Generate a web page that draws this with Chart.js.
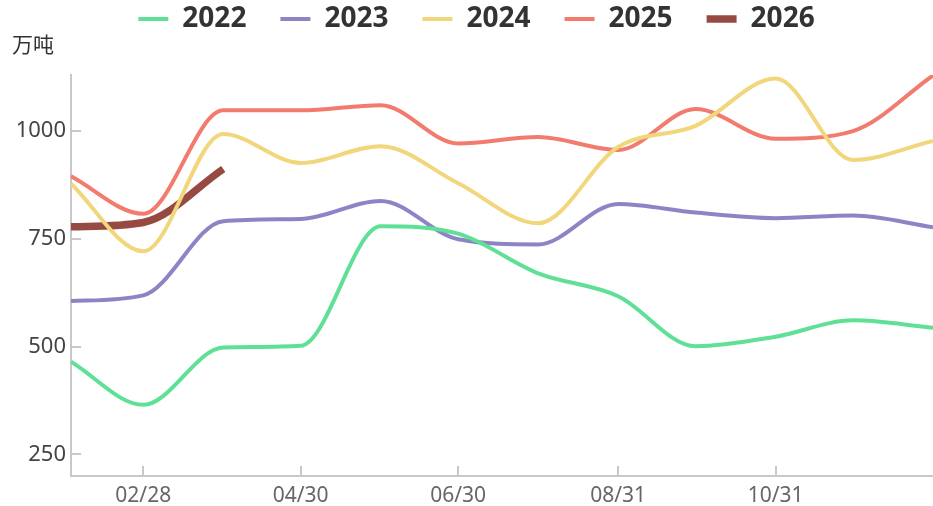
<!DOCTYPE html>
<html>
<head>
<meta charset="utf-8">
<script src="https://cdn.jsdelivr.net/npm/chart.js@4/dist/chart.umd.min.js"></script>
<style>
  html, body { margin: 0; padding: 0; background: #fff; }
  #wrap { width: 933px; height: 506px; position: relative; }
</style>
</head>
<body>
<div id="wrap"><canvas id="chart"></canvas></div>
<script>
const UNIT = '万吨';
const categories = ['01/31', '02/28', '03/31', '04/30', '05/31', '06/30', '07/31', '08/31', '09/30', '10/31', '11/30', '12/31'];
const tickLabels = ['02/28', '04/30', '06/30', '08/31', '10/31'];
const yTicks = [250, 500, 750, 1000];

const s2022 = [465, 365, 498, 502, 779, 762, 670, 617, 501, 523, 561, 544];
const s2023 = [606, 619, 791, 796, 838, 749, 737, 831, 811, 798, 804, 777];
const s2024 = [878, 721, 993, 926, 965, 879, 786, 963, 1012, 1122, 933, 977];
const s2025 = [895, 808, 1048, 1048, 1060, 971, 986, 956, 1051, 982, 1000, 1129];
const s2026 = [778, 788, 912];

const COLORS = {
  2022: '#5fe096',
  2023: '#8c85c5',
  2024: '#f1d67b',
  2025: '#f27b6d',
  2026: '#974a41',
};

// 'MM/DD' -> day of year (non-leap), so the x axis is spaced by date
function dayOfYear(md) {
  const [m, d] = md.split('/').map(Number);
  return (Date.UTC(2023, m - 1, d) - Date.UTC(2023, 0, 0)) / 86400000;
}

function pointsOf(values) {
  return values.map((v, i) => ({ x: dayOfYear(categories[i]), y: v }));
}

function lineDataset(label, values, width) {
  return {
    label,
    data: pointsOf(values),
    borderColor: COLORS[label],
    backgroundColor: COLORS[label],
    borderWidth: width,
    pointRadius: 0,
    pointHoverRadius: 0,
    cubicInterpolationMode: 'monotone',
    fill: false,
    pointStyle: 'line',
  };
}

// legend: extra room below it, and nudged right a little
const legendPlacement = {
  id: 'legendPlacement',
  beforeInit(chart) {
    const legend = chart.legend;
    const fit = legend.fit;
    legend.fit = function () {
      fit.call(this);
      this.height += 32;
    };
    const draw = legend.draw;
    legend.draw = function (...args) {
      this.ctx.save();
      this.ctx.translate(10, 0);
      draw.apply(this, args);
      this.ctx.restore();
    };
  },
};

const unitLabel = {
  id: 'unitLabel',
  afterDraw(chart) {
    const { ctx } = chart;
    ctx.save();
    ctx.font = '21px "Noto Sans CJK SC"';
    ctx.fillStyle = '#333';
    ctx.textAlign = 'left';
    ctx.textBaseline = 'middle';
    ctx.fillText(UNIT, 12, 44);
    ctx.restore();
  },
};

const tickDays = tickLabels.map(dayOfYear);
const labelByDay = {};
tickLabels.forEach((t) => { labelByDay[dayOfYear(t)] = t; });

new Chart(document.getElementById('chart'), {
  type: 'line',
  data: {
    datasets: [
      lineDataset('2022', s2022, 4),
      lineDataset('2023', s2023, 4),
      lineDataset('2024', s2024, 4),
      lineDataset('2025', s2025, 4),
      lineDataset('2026', s2026, 7.5),
    ],
  },
  plugins: [legendPlacement, unitLabel],
  options: {
    responsive: true,
    maintainAspectRatio: false,
    animation: false,
    layout: { padding: { top: -29, left: 0, right: 0, bottom: 0 } },
    plugins: {
      tooltip: { enabled: false },
      legend: {
        position: 'top',
        align: 'center',
        labels: {
          usePointStyle: true,
          pointStyleWidth: 30,
          padding: 34,
          color: '#333',
          font: { family: '"Noto Sans"', size: 28, weight: 'bold' },
        },
      },
    },
    scales: {
      x: {
        type: 'linear',
        min: dayOfYear(categories[0]),
        max: dayOfYear(categories[categories.length - 1]),
        afterBuildTicks(scale) {
          scale.ticks = tickDays.map((v) => ({ value: v }));
        },
        afterFit(scale) {
          scale.height = 30;
        },
        ticks: {
          padding: 17,
          color: '#666',
          font: { family: '"Noto Sans"', size: 21 },
          callback: (v) => labelByDay[v] || '',
        },
        grid: {
          drawOnChartArea: false,
          drawTicks: true,
          tickLength: -10,
          color: '#c8c8c8',
          lineWidth: 2,
        },
        border: { color: '#c8c8c8', width: 2 },
      },
      y: {
        min: 200,
        max: 1130,
        afterBuildTicks(scale) {
          scale.ticks = yTicks.map((v) => ({ value: v }));
        },
        afterFit(scale) {
          scale.width = 71;
        },
        ticks: {
          padding: 15,
          color: '#444',
          font: { family: '"Noto Sans"', size: 22 },
          callback: (v) => String(v),
        },
        grid: {
          drawOnChartArea: false,
          drawTicks: true,
          tickLength: -10,
          color: '#c8c8c8',
          lineWidth: 2,
        },
        border: { color: '#c8c8c8', width: 2 },
      },
    },
  },
});
</script>
</body>
</html>
